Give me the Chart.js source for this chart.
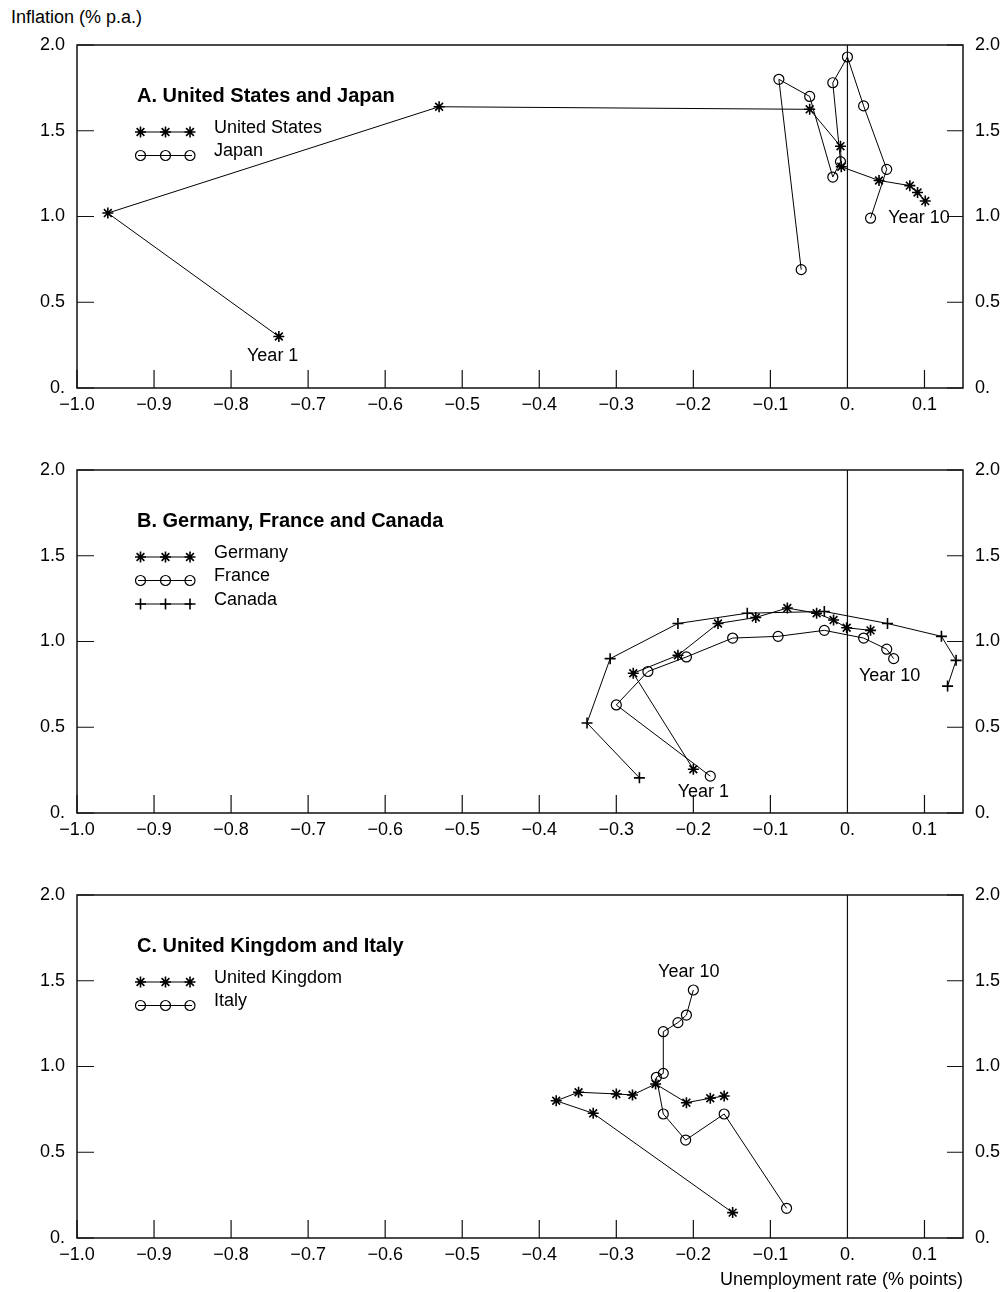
<!DOCTYPE html>
<html>
<head>
<meta charset="utf-8">
<script src="https://cdn.jsdelivr.net/npm/chart.js@4.4.0/dist/chart.umd.min.js"></script>
<style>
  body { margin: 0; background: #fff; width: 1006px; height: 1292px; position: relative;
         font-family: "Liberation Sans", Arial, sans-serif; }
  canvas { position: absolute; left: 0; }
  #ylab { position: absolute; left: 11px; top: 7px; font-size: 18px; line-height: 20px; color: #000; }
</style>
</head>
<body>
<div id="ylab">Inflation (% p.a.)</div>
<canvas id="panelA" width="1006" height="425" style="top:0"></canvas>
<canvas id="panelB" width="1006" height="425" style="top:425px"></canvas>
<canvas id="panelC" width="1006" height="442" style="top:850px"></canvas>
<script>
// axis ticks
const xTicks = [-1.0, -0.9, -0.8, -0.7, -0.6, -0.5, -0.4, -0.3, -0.2, -0.1, 0, 0.1];
const xTickLabels = ['\u22121.0', '\u22120.9', '\u22120.8', '\u22120.7', '\u22120.6', '\u22120.5',
                     '\u22120.4', '\u22120.3', '\u22120.2', '\u22120.1', '0.', '0.1'];
const yTicks = [0, 0.5, 1.0, 1.5, 2.0];
const yTickLabels = ['0.', '0.5', '1.0', '1.5', '2.0'];

// A. United States and Japan (year 1 .. year 10)
const usX = [-0.738, -0.960, -0.530, -0.049, -0.009, -0.008, 0.041, 0.081, 0.091, 0.101];
const usY = [0.30, 1.02, 1.64, 1.625, 1.41, 1.29, 1.21, 1.18, 1.14, 1.09];
const japanX = [-0.060, -0.089, -0.049, -0.019, -0.009, -0.019, 0.000, 0.021, 0.051, 0.030];
const japanY = [0.69, 1.80, 1.70, 1.23, 1.32, 1.78, 1.93, 1.645, 1.275, 0.99];

// B. Germany, France and Canada
const germanyX = [-0.200, -0.278, -0.220, -0.168, -0.119, -0.078, -0.040, -0.018, -0.001, 0.030];
const germanyY = [0.255, 0.815, 0.92, 1.105, 1.14, 1.195, 1.165, 1.125, 1.08, 1.065];
const franceX = [-0.178, -0.300, -0.259, -0.209, -0.149, -0.090, -0.030, 0.021, 0.051, 0.060];
const franceY = [0.215, 0.63, 0.825, 0.91, 1.02, 1.03, 1.065, 1.02, 0.955, 0.90];
const canadaX = [-0.270, -0.338, -0.308, -0.220, -0.130, -0.030, 0.052, 0.122, 0.141, 0.130];
const canadaY = [0.205, 0.525, 0.90, 1.105, 1.165, 1.175, 1.105, 1.03, 0.89, 0.74];

// C. United Kingdom and Italy
const ukX = [-0.149, -0.330, -0.378, -0.349, -0.300, -0.279, -0.249, -0.209, -0.178, -0.160];
const ukY = [0.148, 0.727, 0.80, 0.85, 0.84, 0.834, 0.898, 0.789, 0.815, 0.828];
const italyX = [-0.079, -0.160, -0.210, -0.239, -0.248, -0.239, -0.239, -0.220, -0.209, -0.200];
const italyY = [0.173, 0.723, 0.571, 0.723, 0.937, 0.96, 1.203, 1.256, 1.30, 1.446];

const FONT = '"Liberation Sans", Arial, sans-serif';
Chart.defaults.font.family = FONT;
Chart.defaults.font.size = 18;
Chart.defaults.color = '#000';

function series(label, xs, ys, style) {
  return {
    label: label,
    data: xs.map((x, i) => ({ x: x, y: ys[i] })),
    showLine: true,
    borderColor: '#000',
    borderWidth: 1,
    pointStyle: style,
    pointRadius: style === 'circle' ? 5 : 5.5,
    pointBorderWidth: style === 'circle' ? 1.2 : 1.6,
    pointBorderColor: '#000',
    pointBackgroundColor: 'rgba(0,0,0,0)'
  };
}

function marker(ctx, style, x, y) {
  const opts = { pointStyle: style, rotation: 0, radius: style === 'circle' ? 5 : 5.5,
                 borderWidth: style === 'circle' ? 1.2 : 1.6 };
  ctx.lineWidth = opts.borderWidth;
  Chart.helpers.drawPoint(ctx, opts, x, y);
}

// frame, inward ticks and the zero line
const framePlugin = {
  id: 'frame',
  beforeDatasetsDraw(chart) {
    const { ctx, chartArea: a, scales } = chart;
    ctx.save();
    ctx.strokeStyle = '#111';
    ctx.lineWidth = 1.5;
    ctx.strokeRect(a.left, a.top, a.right - a.left, a.bottom - a.top);
    ctx.lineWidth = 1.2;
    ctx.beginPath();
    xTicks.forEach(v => {
      const px = scales.x.getPixelForValue(v);
      ctx.moveTo(px, v === 0 ? a.top : a.bottom - 18);
      ctx.lineTo(px, a.bottom);
    });
    yTicks.forEach(v => {
      const py = scales.y.getPixelForValue(v);
      ctx.moveTo(a.left, py); ctx.lineTo(a.left + 17, py);
      ctx.moveTo(a.right - 16, py); ctx.lineTo(a.right, py);
    });
    ctx.stroke();
    ctx.restore();
  }
};

// panel title + legend inside the plot, and the Year labels
const panelLegend = {
  id: 'panelLegend',
  afterDraw(chart, args, opts) {
    const { ctx, chartArea: a, scales } = chart;
    ctx.save();
    ctx.fillStyle = '#000';
    ctx.strokeStyle = '#000';
    ctx.textBaseline = 'middle';
    ctx.textAlign = 'left';
    ctx.font = 'bold 20px ' + FONT;
    ctx.fillText(opts.title, 137, a.top + 51);
    ctx.font = '18px ' + FONT;
    chart.data.datasets.forEach((ds, i) => {
      const y = a.top + 87 + 23.5 * i;
      ctx.lineWidth = 1;
      ctx.beginPath();
      ctx.moveTo(138, y); ctx.lineTo(192, y);
      ctx.stroke();
      ctx.fillStyle = 'rgba(0,0,0,0)';
      [140.5, 165.5, 190].forEach(mx => marker(ctx, ds.pointStyle, mx, y));
      ctx.fillStyle = '#000';
      ctx.fillText(ds.label, 214, y - 4);
    });
    (opts.notes || []).forEach(n => {
      ctx.textAlign = n.align;
      ctx.fillText(n.text, scales.x.getPixelForValue(n.x), scales.y.getPixelForValue(n.y));
    });
    ctx.restore();
  }
};

function makePanel(id, title, datasets, notes, showXTitle) {
  const canvas = document.getElementById(id);
  const xHeight = canvas.height - 45 - 343;
  return new Chart(canvas, {
    type: 'scatter',
    data: { datasets: datasets },
    plugins: [framePlugin, panelLegend],
    options: {
      responsive: false,
      animation: false,
      devicePixelRatio: 1,
      layout: { padding: { top: 45, left: 0, right: 0, bottom: 0 } },
      plugins: {
        legend: { display: false },
        tooltip: { enabled: false },
        panelLegend: { title: title, notes: notes }
      },
      scales: {
        x: {
          type: 'linear', min: -1.0, max: 0.15,
          afterFit: s => { s.height = xHeight; },
          afterBuildTicks: s => { s.ticks = xTicks.map(v => ({ value: v })); },
          grid: { display: false, drawTicks: false },
          border: { display: false },
          ticks: { autoSkip: false, maxRotation: 0, padding: 6, color: '#000',
                   callback: v => xTickLabels[xTicks.indexOf(v)] },
          title: { display: showXTitle, text: 'Unemployment rate (% points)', align: 'end',
                   color: '#000', padding: { top: 0, bottom: 1 } }
        },
        y: {
          type: 'linear', position: 'left', min: 0, max: 2,
          afterFit: s => { s.width = 77; },
          afterBuildTicks: s => { s.ticks = yTicks.map(v => ({ value: v })); },
          grid: { display: false, drawTicks: false },
          border: { display: false },
          ticks: { padding: 12, color: '#000', callback: v => yTickLabels[yTicks.indexOf(v)] }
        },
        y2: {
          type: 'linear', position: 'right', min: 0, max: 2,
          afterFit: s => { s.width = 43; },
          afterBuildTicks: s => { s.ticks = yTicks.map(v => ({ value: v })); },
          grid: { display: false, drawTicks: false },
          border: { display: false },
          ticks: { padding: 12, color: '#000', callback: v => yTickLabels[yTicks.indexOf(v)] }
        }
      }
    }
  });
}

makePanel('panelA', 'A. United States and Japan', [
  series('United States', usX, usY, 'star'),
  series('Japan', japanX, japanY, 'circle')
], [
  { text: 'Year 1', x: -0.746, y: 0.187, align: 'center' },
  { text: 'Year 10', x: 0.053, y: 0.993, align: 'left' }
], false);

makePanel('panelB', 'B. Germany, France and Canada', [
  series('Germany', germanyX, germanyY, 'star'),
  series('France', franceX, franceY, 'circle'),
  series('Canada', canadaX, canadaY, 'cross')
], [
  { text: 'Year 10', x: 0.015, y: 0.80, align: 'left' },
  { text: 'Year 1', x: -0.187, y: 0.12, align: 'center' }
], false);

makePanel('panelC', 'C. United Kingdom and Italy', [
  series('United Kingdom', ukX, ukY, 'star'),
  series('Italy', italyX, italyY, 'circle')
], [
  { text: 'Year 10', x: -0.206, y: 1.553, align: 'center' }
], true);
</script>
</body>
</html>
